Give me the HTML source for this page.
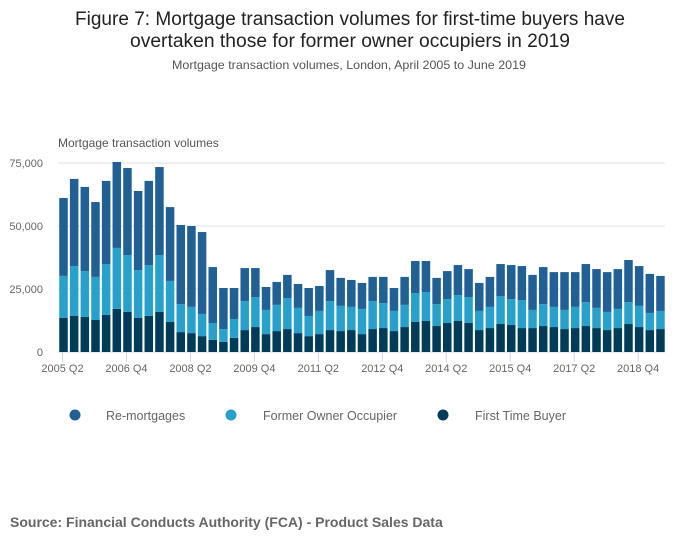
<!DOCTYPE html>
<html><head><meta charset="utf-8">
<style>
body{margin:0;background:#fff;width:700px;height:549px;overflow:hidden;font-family:"Liberation Sans",sans-serif;}
svg text{font-family:"Liberation Sans",sans-serif;}
</style></head>
<body>
<svg id="chart" width="700" height="549" xmlns="http://www.w3.org/2000/svg">
<text x="350" y="25" text-anchor="middle" font-size="19" fill="#222" textLength="550" lengthAdjust="spacingAndGlyphs">Figure 7: Mortgage transaction volumes for first-time buyers have</text>
<text x="350" y="47" text-anchor="middle" font-size="19" fill="#222" textLength="440" lengthAdjust="spacingAndGlyphs">overtaken those for former owner occupiers in 2019</text>
<text x="349" y="69" text-anchor="middle" font-size="12" fill="#555" textLength="354" lengthAdjust="spacingAndGlyphs">Mortgage transaction volumes, London, April 2005 to June 2019</text>
<text x="58" y="147" font-size="12" fill="#555">Mortgage transaction volumes</text>
<g id="grid"></g><g id="bars"></g><g id="xaxis"></g>
<g>
<g><circle cx="75" cy="415" r="5.5" fill="#206095"/><text x="106" y="420" font-size="12.5" fill="#666">Re-mortgages</text></g>
<g><circle cx="231" cy="415" r="5.5" fill="#27a0cc"/><text x="263" y="420" font-size="12.5" fill="#666">Former Owner Occupier</text></g>
<g><circle cx="443" cy="415" r="5.5" fill="#003c57"/><text x="475" y="420" font-size="12.5" fill="#666">First Time Buyer</text></g>
</g>
<text x="10" y="527" font-size="14" font-weight="bold" fill="#666">Source: Financial Conducts Authority (FCA) - Product Sales Data</text>
</svg>
<script>
const ftb=[13.5,14.3,13.9,12.7,14.7,17.1,15.9,13.5,14.3,15.9,11.9,7.9,7.5,6.3,4.8,4.0,5.6,8.7,9.9,7.1,8.3,9.1,7.5,6.3,7.1,8.7,8.3,8.7,7.1,9.1,9.5,8.3,9.9,11.9,12.3,10.3,11.5,12.3,11.5,8.7,9.5,11.1,10.7,9.5,9.5,10.3,9.9,9.1,9.5,10.3,9.5,8.7,9.5,11.1,9.9,8.7,9.1];
const foo=[16.7,19.8,18.2,17.1,20.2,24.2,22.6,19.0,20.2,22.6,16.3,11.1,10.4,8.8,6.7,5.1,7.5,11.5,11.9,9.6,10.4,12.3,10.0,8.0,9.2,11.5,10.0,9.2,10.0,11.1,9.9,8.0,8.8,11.5,11.5,8.7,9.5,10.3,10.3,7.6,8.4,11.1,10.3,11.1,7.2,8.7,8.0,7.6,8.4,9.5,8.0,7.2,7.6,8.7,8.4,6.8,7.2];
const remort=[30.9,34.6,33.4,29.7,33.0,34.1,34.5,31.4,33.4,34.9,29.3,31.4,32.1,32.5,22.2,16.3,12.3,13.1,11.5,9.1,9.1,9.2,9.5,11.1,9.9,12.3,11.1,10.7,10.3,9.6,10.4,9.1,11.1,12.7,12.3,10.4,11.1,11.9,11.1,11.1,11.9,12.7,13.5,13.5,13.9,14.7,13.8,15.0,13.8,15.1,15.4,15.8,15.8,16.7,15.8,15.5,13.9];
const xTickLabels=["2005 Q2","2006 Q4","2008 Q2","2009 Q4","2011 Q2","2012 Q4","2014 Q2","2015 Q4","2017 Q2","2018 Q4"];
const yTicks=[0,25,50,75];
const NS="http://www.w3.org/2000/svg";
const x0=63.5,step=10.66,bw=8.5;
const y=v=>352-v*189/75;
const x=i=>x0+i*step;
function mk(tag,attrs,parent){const e=document.createElementNS(NS,tag);for(const k in attrs)e.setAttribute(k,attrs[k]);parent.appendChild(e);return e;}
const grid=document.getElementById('grid');
yTicks.forEach(t=>{
  const l=mk('line',{x1:58,x2:665,y1:y(t),y2:y(t),stroke:t?'#e0e0e0':'#ccd6eb','stroke-width':1},grid);
  
  
  const tx=mk('text',{x:43,y:y(t)+4,'text-anchor':'end','font-size':11,fill:'#666'},grid);
  tx.textContent=t?t+',000':'0';
  
  
});
const bars=document.getElementById('bars');
ftb.forEach((v,i)=>{
  const segs=[[0,v,'#003c57','ftb'],[v,v+foo[i],'#27a0cc','foo'],[v+foo[i],v+foo[i]+remort[i],'#206095','remortgage']];
  segs.forEach(s=>{
    const r=mk('rect',{x:x(i)-bw/2,y:y(s[1]),width:bw,height:y(s[0])-y(s[1]),fill:s[2]},bars);
    
    
  });
});
const xa=document.getElementById('xaxis');
xTickLabels.forEach((lab,k)=>{
  const xi=x(k*6)-1;
  const tl=mk('line',{x1:xi,x2:xi,y1:352,y2:362,stroke:'#ccd6eb'},xa);
  
  
  const tx=mk('text',{x:xi,y:372,'text-anchor':'middle','font-size':11,fill:'#666'},xa);
  tx.textContent=lab;
  
  
});
</script>
</body></html>
